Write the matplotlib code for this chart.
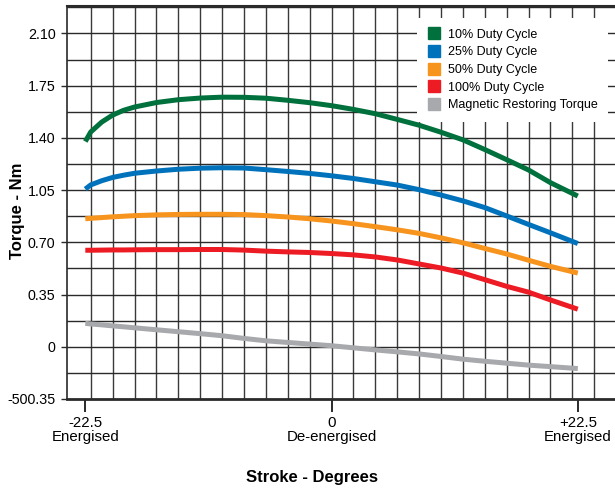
import matplotlib
matplotlib.use("Agg")
import matplotlib.pyplot as plt
import numpy as np
from matplotlib.lines import Line2D

plt.rcParams['font.family'] = ['Liberation Sans', 'DejaVu Sans']

stroke_deg = [-22.5, -22, -21, -20, -19, -18, -16, -14, -12, -10, -8, -6, -4, -2,
              0, 2, 4, 6, 8, 10, 12, 14, 16, 18, 20, 22.5]

duty10 = [1.376, 1.44, 1.506, 1.553, 1.585, 1.607, 1.637, 1.656, 1.667, 1.673, 1.672,
          1.666, 1.652, 1.636, 1.616, 1.591, 1.562, 1.524, 1.485, 1.438, 1.387, 1.322,
          1.254, 1.185, 1.10, 1.01]
duty25 = [1.057, 1.085, 1.113, 1.135, 1.150, 1.163, 1.178, 1.19, 1.197, 1.20, 1.198,
          1.187, 1.175, 1.162, 1.146, 1.128, 1.106, 1.084, 1.053, 1.017, 0.978, 0.933,
          0.877, 0.82, 0.764, 0.692]
duty50 = [0.858, 0.861, 0.866, 0.871, 0.875, 0.879, 0.884, 0.887, 0.888, 0.888, 0.886,
          0.879, 0.87, 0.858, 0.843, 0.825, 0.805, 0.784, 0.76, 0.73, 0.697, 0.659,
          0.622, 0.58, 0.539, 0.494]
duty100 = [0.647, 0.647, 0.648, 0.649, 0.649, 0.650, 0.651, 0.651, 0.652, 0.652, 0.648,
           0.641, 0.636, 0.632, 0.625, 0.616, 0.602, 0.582, 0.555, 0.528, 0.494, 0.45,
           0.405, 0.366, 0.314, 0.252]
restoring = [0.157, 0.153, 0.147, 0.140, 0.134, 0.127, 0.114, 0.101, 0.088, 0.074, 0.056,
             0.040, 0.029, 0.018, 0.007, -0.007, -0.021, -0.034, -0.048, -0.065, -0.083,
             -0.097, -0.110, -0.123, -0.133, -0.146]

series_labels = ['10% Duty Cycle', '25% Duty Cycle', '50% Duty Cycle', '100% Duty Cycle',
                 'Magnetic Restoring Torque']
series_colors = ['#00703C', '#0072BC', '#F7941D', '#ED1C24', '#A7A9AC']

y_ticks = [-0.35, 0, 0.35, 0.70, 1.05, 1.40, 1.75, 2.10]
y_ticklabels = ['-500.35', '0', '0.35', '0.70', '1.05', '1.40', '1.75', '2.10']
x_ticks = [-22.5, 0, 22.5]
x_ticklabels = ['-22.5\nEnergised', '0\nDe-energised', '+22.5\nEnergised']

fig = plt.figure(figsize=(6.15, 4.91), dpi=100)
ax = fig.add_axes([66.7 / 615, 1 - 399 / 491, (615 - 66.7) / 615, (399 - 6) / 491])

ax.set_xlim(-24.2, 25.9)
ax.set_ylim(-0.35, 2.284)

# background grid: every 2 degrees and every 0.175 Nm
for gx in np.arange(-22, 26, 2):
    ax.axvline(gx, color='#3a3a3a', linewidth=1.0, zorder=1)
for gy in np.arange(-0.175, 2.29, 0.175):
    ax.axhline(gy, color='#2a2a2a', linewidth=1.0, zorder=1)

for vals, col in zip([duty10, duty25, duty50, duty100, restoring], series_colors):
    ax.plot(stroke_deg, vals, color=col, linewidth=3.6, solid_capstyle='butt',
            solid_joinstyle='round', zorder=3)

ax.set_xticks(x_ticks)
ax.set_xticklabels(x_ticklabels, fontsize=10.8, linespacing=1.0)
ax.set_yticks(y_ticks)
ax.set_yticklabels(y_ticklabels, fontsize=10.3)
ax.tick_params(axis='x', which='major', length=9, width=1.4, color='#2a2a2a', pad=3)
ax.tick_params(axis='y', which='major', length=4, width=1.0, color='#2a2a2a', pad=4)
ax.tick_params(which='minor', length=0)

ax.spines['right'].set_visible(False)
ax.spines['top'].set_color('#2a2a2a')
ax.spines['top'].set_linewidth(1.5)
ax.spines['left'].set_color('#2a2a2a')
ax.spines['left'].set_linewidth(1.2)
ax.spines['bottom'].set_color('#2a2a2a')
ax.spines['bottom'].set_linewidth(2.0)

ax.set_ylabel('Torque - Nm', fontsize=12, fontweight='bold')
ax.yaxis.set_label_coords(-0.0755, 0.478)
ax.set_xlabel('Stroke - Degrees', fontsize=12, fontweight='bold')
ax.xaxis.set_label_coords(0.447, -0.181)

handles = [Line2D([0], [0], marker='s', linestyle='none', markersize=8.5,
                  markerfacecolor=c, markeredgecolor=c) for c in series_colors]
leg = ax.legend(handles, series_labels, loc='upper left',
                bbox_to_anchor=(417 / 615, 1 - 18 / 491), bbox_transform=fig.transFigure,
                frameon=True, facecolor='white', edgecolor='none', framealpha=1,
                fancybox=False, fontsize=9, handlelength=1.0, handletextpad=0.6,
                labelspacing=0.45, borderpad=0.85, borderaxespad=0)
leg.set_zorder(5)

fig.savefig('out.png', dpi=100)
